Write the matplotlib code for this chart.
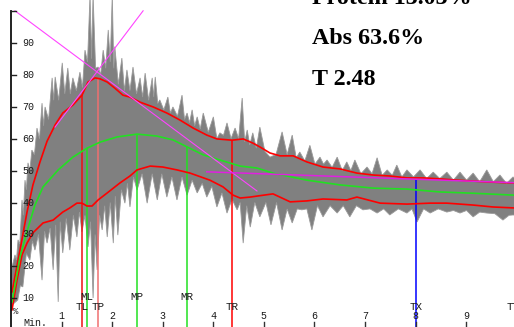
import matplotlib
matplotlib.use("Agg")
import matplotlib.pyplot as plt

# ---------------- data ----------------
upper_t = [0.016, 0.174, 0.313, 0.43, 0.57, 0.71, 0.87, 1.02, 1.22, 1.40, 1.52, 1.66, 1.76, 1.90, 2.05,
           2.21, 2.35, 2.55, 2.81, 3.08, 3.34, 3.60, 3.87, 4.07, 4.37, 4.59, 4.78, 4.92, 5.12, 5.32,
           5.58, 5.85, 6.17, 6.51, 6.84, 7.16, 7.49, 7.83, 8.15, 8.48, 8.82, 9.14, 9.47, 9.95]
upper_v = [12.0, 25.1, 37.0, 45.5, 52.7, 59.2, 64.3, 68.0, 70.5, 73.6, 77.7, 79.0, 78.7, 77.7, 75.8,
           73.6, 73.0, 71.4, 69.9, 68.0, 65.8, 63.3, 61.1, 59.9, 59.5, 59.9, 58.6, 57.4, 55.5, 54.6,
           54.6, 52.7, 51.1, 50.5, 49.2, 48.6, 48.3, 47.7, 47.7, 47.4, 47.0, 46.7, 46.4, 46.1]

mid_t = [0.016, 0.174, 0.332, 0.47, 0.63, 0.93, 1.22, 1.50, 1.76, 2.09, 2.49, 2.88, 3.20, 3.48, 3.80,
         4.13, 4.53, 4.86, 5.18, 5.85, 6.51, 7.16, 7.83, 8.48, 9.14, 9.95]
mid_v = [8.9, 22.9, 32.0, 39.2, 44.9, 50.2, 54.2, 57.0, 58.9, 60.5, 61.4, 60.8, 59.6, 57.4, 54.9,
         53.3, 51.4, 50.8, 49.2, 47.0, 45.5, 44.5, 44.2, 43.3, 42.9, 42.3]

lower_t = [0.016, 0.115, 0.214, 0.313, 0.43, 0.63, 0.83, 1.02, 1.16, 1.30, 1.40, 1.50, 1.60, 1.72, 1.90,
           2.15, 2.35, 2.49, 2.75, 3.00, 3.28, 3.54, 3.93, 4.19, 4.39, 4.53, 4.73, 4.86, 5.18, 5.52,
           5.85, 6.17, 6.64, 6.84, 7.30, 7.83, 8.29, 8.62, 9.14, 9.53, 9.95]
lower_v = [6.4, 15.7, 23.6, 27.3, 30.5, 33.6, 34.5, 37.0, 38.3, 39.8, 39.8, 38.9, 38.9, 40.8, 43.0,
           46.1, 48.3, 50.2, 51.4, 51.1, 50.2, 49.2, 47.0, 44.9, 42.3, 41.4, 41.7, 42.0, 42.7, 40.2,
           40.5, 41.1, 40.8, 41.7, 39.8, 39.5, 39.8, 39.8, 39.2, 38.6, 38.3]

# raw trace, upper and lower edges of the gray band
trace_top_t = [0.00, 0.016, 0.075, 0.105, 0.135, 0.17, 0.214, 0.24, 0.273, 0.30, 0.332, 0.37, 0.409, 0.46,
               0.51, 0.56, 0.61, 0.64, 0.67, 0.74, 0.81, 0.84, 0.87, 0.94, 1.01, 1.06, 1.12, 1.17, 1.22,
               1.29, 1.36, 1.41, 1.46, 1.51, 1.56, 1.59, 1.62, 1.67, 1.72, 1.77, 1.82, 1.87, 1.92, 1.96,
               2.00, 2.03, 2.05, 2.12, 2.19, 2.24, 2.29, 2.35, 2.41, 2.48, 2.55, 2.60, 2.65, 2.72, 2.79,
               2.82, 2.85, 2.90, 2.94, 3.02, 3.10, 3.15, 3.20, 3.29, 3.38, 3.43, 3.48, 3.53, 3.58, 3.63,
               3.68, 3.74, 3.80, 3.90, 4.00, 4.07, 4.13, 4.20, 4.27, 4.35, 4.43, 4.50, 4.57, 4.62, 4.67,
               4.72, 4.78, 4.85, 4.92, 5.02, 5.12, 5.24, 5.36, 5.46, 5.56, 5.64, 5.71, 5.81, 5.91, 6.01,
               6.11, 6.18, 6.25, 6.35, 6.45, 6.55, 6.64, 6.72, 6.80, 6.92, 7.04, 7.14, 7.24, 7.34, 7.44,
               7.54, 7.63, 7.73, 7.83, 7.96, 8.09, 8.22, 8.35, 8.48, 8.62, 8.75, 8.88, 9.01, 9.14, 9.27,
               9.41, 9.54, 9.67, 9.80, 9.93, 10.0]
trace_top_v = [17, 19.8, 23.6, 22, 28.3, 27, 40.8, 36, 47.0, 44, 52.4, 50, 56.4, 55,
               63.3, 60, 71.1, 64, 69.9, 66, 79.0, 72, 79.3, 72, 83.7, 74, 82.1, 74, 79.0,
               75, 80.8, 76, 87.7, 84, 105, 85, 105, 82, 82.4, 80, 87.7, 82, 94.0, 84,
               105, 82, 88.8, 77, 85.2, 75, 81.5, 75, 82.4, 74, 79.0, 73, 80.5, 72, 79.0,
               73, 79.3, 71, 72.1, 69, 73.0, 68, 69.9, 67, 73.6, 66, 68.0, 65, 69.0, 64,
               66.8, 63, 68.0, 62, 66.8, 60, 61.8, 61, 64.9, 60, 63.3, 60, 72.7, 59, 62.7,
               58, 61.8, 57, 63.6, 56, 54.2, 55, 62.1, 55, 61.1, 54, 55.8, 53, 57.9, 52,
               54.2, 52, 53.3, 51, 54.2, 50, 52.7, 50, 53.3, 49, 51.1, 49, 54.0, 48.5, 50.2,
               48.5, 51.7, 48, 50.2, 48, 50.2, 47.5, 49.5, 47.5, 49.5, 47, 49.5, 47, 49.2, 46.5,
               50.2, 46.5, 48.6, 46, 48.0, 47]

trace_bot_t = [0.00, 0.016, 0.13, 0.18, 0.23, 0.30, 0.37, 0.42, 0.47, 0.54, 0.61, 0.66, 0.71, 0.77,
               0.83, 0.88, 0.93, 0.97, 1.02, 1.09, 1.16, 1.23, 1.30, 1.35, 1.40, 1.46, 1.52, 1.57,
               1.62, 1.66, 1.70, 1.75, 1.80, 1.85, 1.90, 1.96, 2.02, 2.06, 2.11, 2.18, 2.25, 2.30,
               2.35, 2.42, 2.49, 2.59, 2.69, 2.79, 2.89, 2.98, 3.08, 3.18, 3.28, 3.38, 3.48, 3.58,
               3.68, 3.78, 3.87, 3.97, 4.07, 4.17, 4.27, 4.37, 4.47, 4.53, 4.59, 4.66, 4.73, 4.82,
               4.92, 5.04, 5.14, 5.25, 5.36, 5.46, 5.56, 5.66, 5.75, 5.85, 5.95, 6.06, 6.17, 6.31,
               6.45, 6.57, 6.70, 6.83, 6.96, 7.10, 7.24, 7.37, 7.49, 7.66, 7.83, 7.93, 8.03, 8.16,
               8.29, 8.45, 8.62, 8.75, 8.88, 9.01, 9.14, 9.27, 9.41, 9.57, 9.73, 9.85, 9.93, 10.0]
trace_bot_v = [6, 7.9, 9.5, 14, 13.6, 24, 22.0, 28, 25.1, 30, 15.7, 31, 27.3, 32,
               18.9, 33, 8.9, 34, 24.2, 35, 25.1, 36, 29.2, 37, 30.8, 36, 26.1, 34,
               10.1, 30, 18.9, 36, 31.4, 39, 29.2, 40, 27.3, 42, 29.8, 44, 39.8, 46,
               38.6, 48, 43.9, 49, 39.8, 49, 40.8, 49, 41.7, 48, 40.8, 48, 42.3, 47,
               43.0, 46, 41.7, 45, 38.6, 43, 36.7, 41, 37.7, 40, 27.3, 39, 32.3, 40,
               35.5, 40, 33, 40, 31.4, 38, 33.6, 38, 37.7, 38, 31.4, 39, 35.5, 39,
               36.7, 39, 35.5, 39, 37.7, 38, 36.7, 38, 36.1, 38, 36.7, 38, 33.9, 38,
               36.7, 38, 37.0, 37.5, 36.7, 37.5, 35.5, 37, 36.7, 36.5, 34.5, 36, 36.1, 36]

# regression / tangent lines (start, end)
tangent_up_t = [0.867, 2.61]
tangent_up_v = [63.6, 100.0]
tangent_down_t = [0.075, 4.863]
tangent_down_v = [100.0, 43.6]
tail_t = [3.87, 9.95]
tail_v = [49.6, 46.2]

# event markers
marker_names = ['TL', 'ML', 'TP', 'MP', 'MR', 'TR', 'TX', 'TT']
marker_t = [1.40, 1.49, 1.71, 2.48, 3.48, 4.37, 8.01, 9.94]
marker_top = [73.6, 57.0, 78.9, 61.4, 57.4, 59.5, 47.4, None]
marker_colors = ['#ee1111', '#22e022', '#f07070', '#22e022', '#22e022', '#ff0000', '#0000ff', None]

y_ticks = [10, 20, 30, 40, 50, 60, 70, 80, 90]
x_ticks = [1, 2, 3, 4, 5, 6, 7, 8, 9]

info_lines = ['Protein 13.03%', 'Abs 63.6%', 'T 2.48']

# ---------------- figure ----------------
W, H = 514, 327
fig = plt.figure(figsize=(W / 100, H / 100), dpi=100)
ax = fig.add_axes([0, 0, 1, 1])
px_per_min = 50.54
px_per_unit = 3.195
x0_px = 11.2
y0_px = 330.3
ax.set_xlim(-x0_px / px_per_min, (W - x0_px) / px_per_min)
ax.set_ylim((y0_px - H) / px_per_unit, y0_px / px_per_unit)
ax.axis('off')

mono = ['Liberation Mono', 'DejaVu Sans Mono']
txt_col = '#1a1a1a'

# gray raw trace band
poly_t = list(trace_top_t) + list(trace_bot_t[::-1])
poly_v = list(trace_top_v) + list(trace_bot_v[::-1])
ax.fill(poly_t, poly_v, color='#808080', lw=0.6, ec='#9a9a9a', zorder=1)

# marker vertical lines
bottom = (y0_px - H) / px_per_unit - 1
for name, t, top, c in zip(marker_names, marker_t, marker_top, marker_colors):
    if top is not None:
        ax.plot([t, t], [bottom, top], color=c, lw=1.1, zorder=2.5, solid_capstyle='butt')

# envelopes
ax.plot(upper_t, upper_v, color='#ff0000', lw=1.2, zorder=3)
ax.plot(lower_t, lower_v, color='#ff0000', lw=1.2, zorder=3)
ax.plot(mid_t, mid_v, color='#22e022', lw=1.2, zorder=3)

# tangent lines
ax.plot(tangent_up_t, tangent_up_v, color='#ff44ff', lw=0.8, zorder=4)
ax.plot(tangent_down_t, tangent_down_v, color='#ff44ff', lw=0.8, zorder=4)
ax.plot(tail_t, tail_v, color='#e020e0', lw=1.1, zorder=4)

# y axis
ax.plot([0, 0], [bottom, 100], color='#111111', lw=1.3, zorder=5)
tick_len = 5.0 / px_per_min
for v in y_ticks + [100]:
    ax.plot([0, tick_len], [v, v], color='#222222', lw=1.0, zorder=5)
for v in y_ticks:
    ax.text((22.5 - x0_px) / px_per_min, v, str(v), ha='left', va='center',
            fontsize=7.2, family=mono, color=txt_col, zorder=6)
ax.text((16 - x0_px) / px_per_min, (y0_px - 311.7) / px_per_unit, '%', ha='center', va='center',
        fontsize=6.5, family=mono, color=txt_col, zorder=6)

# x axis labels
for t in x_ticks:
    ax.text(t, (y0_px - 315.7) / px_per_unit, str(t), ha='center', va='center',
            fontsize=7.2, family=mono, color=txt_col, zorder=6)
    ax.plot([t, t], [(y0_px - 327.5) / px_per_unit, (y0_px - 322) / px_per_unit],
            color='#333333', lw=1.0, zorder=6)
ax.text((23 - x0_px) / px_per_min, (y0_px - 322.7) / px_per_unit, 'Min.', ha='left', va='center',
        fontsize=7.2, family=mono, color=txt_col, zorder=6)

# marker labels
for name, t in zip(marker_names, marker_t):
    row_y = 296.7 if name.startswith('M') else 306.7
    ax.text(t, (y0_px - row_y) / px_per_unit, name, ha='center', va='center',
            fontsize=7.8, family=mono, color=txt_col, zorder=6)

# info text
serif = ['Liberation Serif', 'DejaVu Serif']
for s, base in zip(info_lines, [4, 44, 85]):
    fig.text(312 / W, 1 - base / H, s, ha='left', va='baseline', fontsize=17.3,
             fontweight='bold', family=serif, color='black')

fig.savefig('out.png', dpi=100)
